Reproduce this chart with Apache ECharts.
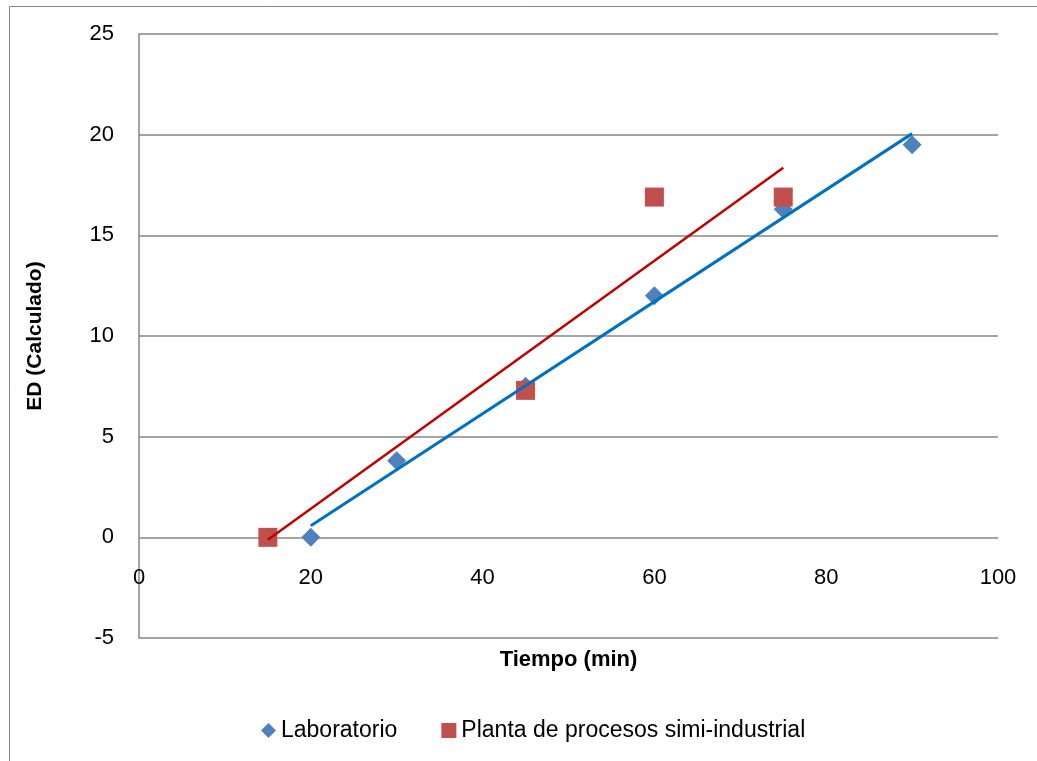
<!DOCTYPE html>
<html>
<head>
<meta charset="utf-8">
<script src="https://cdn.jsdelivr.net/npm/echarts@6/dist/echarts.min.js"></script>
<style>
html,body{margin:0;padding:0;background:#fff;}
#chart{width:1037px;height:761px;}
</style>
</head>
<body>
<div id="chart"></div>
<script>
const labX = [20, 30, 45, 60, 75, 90];
const labY = [0, 3.8, 7.5, 12, 16.3, 19.5];
const plantaX = [15, 45, 60, 75];
const plantaY = [0, 7.3, 16.9, 16.9];
const seriesNames = ['Laboratorio', 'Planta de procesos simi-industrial'];
const xTicks = [0, 20, 40, 60, 80, 100];
const yTicks = [-5, 0, 5, 10, 15, 20, 25];

function pairs(xs, ys) { return xs.map((x, i) => [x, ys[i]]); }
function trend(xs, ys) {
  const n = xs.length;
  const mx = xs.reduce((a, b) => a + b, 0) / n;
  const my = ys.reduce((a, b) => a + b, 0) / n;
  let sxy = 0, sxx = 0;
  for (let i = 0; i < n; i++) { sxy += (xs[i] - mx) * (ys[i] - my); sxx += (xs[i] - mx) ** 2; }
  const b = sxy / sxx, a = my - b * mx;
  const x0 = Math.min(...xs), x1 = Math.max(...xs);
  return [[x0, a + b * x0], [x1, a + b * x1]];
}

const FONT = '"Liberation Sans", Arial, sans-serif';
const diamond = 'path://M0,-1L1,0L0,1L-1,0Z';
const chart = echarts.init(document.getElementById('chart'), null, {renderer: 'canvas'});
chart.setOption({
  animation: false,
  backgroundColor: '#fff',
  graphic: [{
    type: 'rect', shape: {x: 9.5, y: 6.5, width: 1040, height: 800},
    style: {fill: 'none', stroke: '#868686', lineWidth: 1}, silent: true
  }],
  grid: {left: 139, right: 39, top: 34, bottom: 123, containLabel: false, outerBoundsMode: 'none'},
  legend: {
    top: 714, left: 256, itemGap: 44, itemWidth: 15, itemHeight: 15, itemTextGap: 7,
    textStyle: {fontFamily: FONT, fontSize: 23, color: '#000'},
    data: [
      {name: seriesNames[0], icon: diamond, itemStyle: {color: '#4F81BD'}},
      {name: seriesNames[1], icon: 'rect', itemStyle: {color: '#C0504D'}}
    ]
  },
  xAxis: {
    type: 'value', min: xTicks[0], max: xTicks[xTicks.length - 1], interval: 20,
    name: 'Tiempo (min)', nameLocation: 'middle', nameGap: 11,
    nameTextStyle: {fontFamily: FONT, fontSize: 22, fontWeight: 'bold', color: '#000', verticalAlign: 'top'},
    axisLine: {show: false},
    axisTick: {show: false},
    axisLabel: {fontFamily: FONT, fontSize: 22, color: '#000', margin: -71},
    splitLine: {show: false}
  },
  yAxis: {
    type: 'value', min: yTicks[0], max: yTicks[yTicks.length - 1], interval: 5,
    name: 'ED (Calculado)', nameLocation: 'middle', nameGap: 93,
    nameTextStyle: {fontFamily: FONT, fontSize: 21, fontWeight: 'bold', color: '#000'},
    axisLine: {show: true, onZero: false, lineStyle: {color: '#868686', width: 1.5}},
    axisTick: {show: false},
    axisLabel: {fontFamily: FONT, fontSize: 22, color: '#000', margin: 25},
    splitLine: {show: true, lineStyle: {color: '#868686', width: 1.5}}
  },
  series: [
    {name: seriesNames[0], type: 'scatter', data: pairs(labX, labY), symbol: diamond, symbolSize: 19,
     itemStyle: {color: '#4F81BD', opacity: 1}, z: 3},
    {name: seriesNames[1], type: 'scatter', data: pairs(plantaX, plantaY), symbol: 'rect', symbolSize: 19,
     itemStyle: {color: '#C0504D', opacity: 1}, z: 4},
    {name: 'trendLab', type: 'line', data: trend(labX, labY), showSymbol: false, symbol: 'none',
     lineStyle: {color: '#0070C0', width: 3}, z: 5, silent: true},
    {name: 'trendPlanta', type: 'line', data: trend(plantaX, plantaY), showSymbol: false, symbol: 'none',
     lineStyle: {color: '#C00000', width: 2.5}, z: 5, silent: true}
  ]
});
</script>
</body>
</html>
